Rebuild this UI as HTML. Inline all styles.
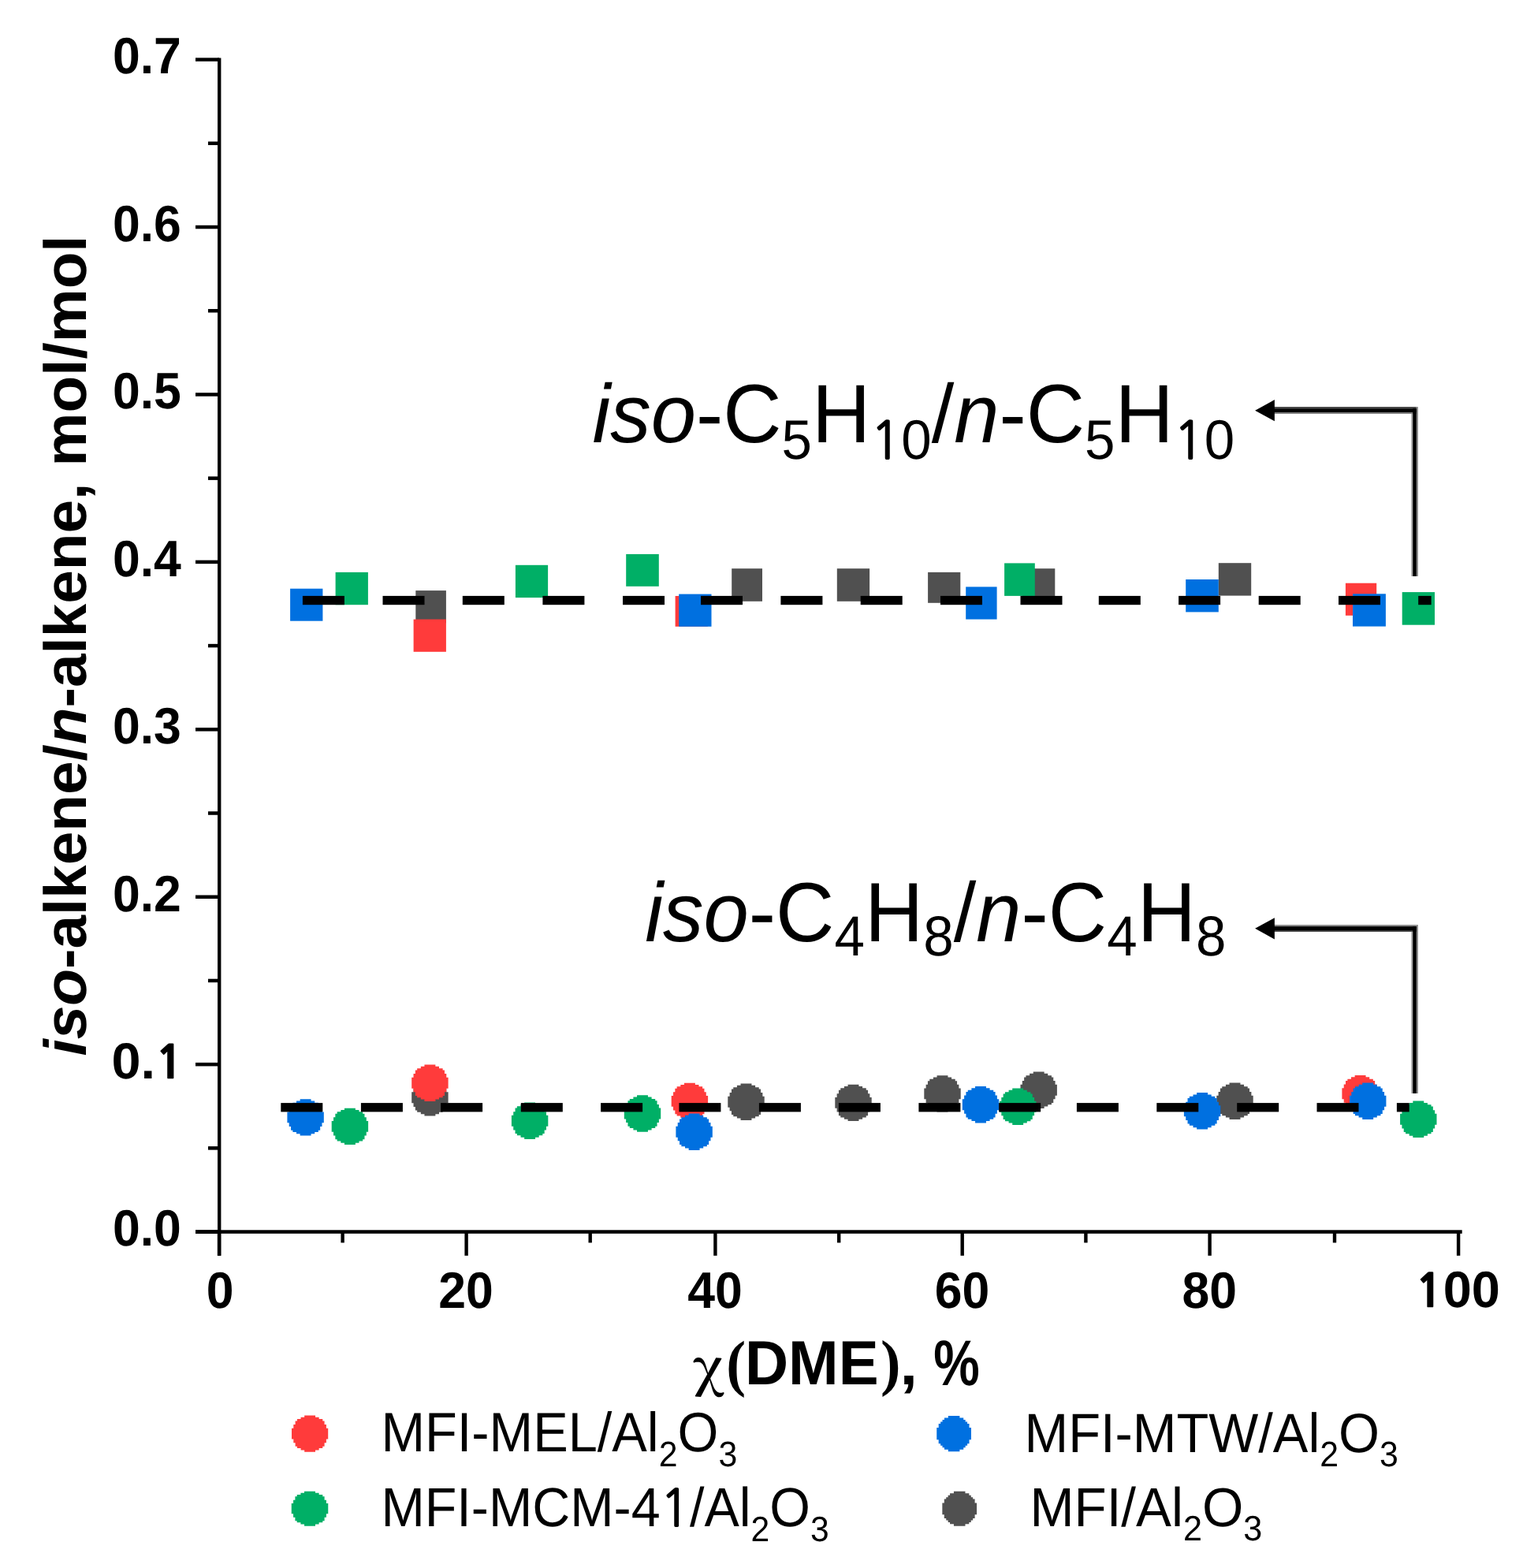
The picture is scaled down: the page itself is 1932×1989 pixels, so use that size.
<!DOCTYPE html>
<html><head><meta charset="utf-8"><title>iso-alkene/n-alkene vs DME conversion</title>
<style>html,body{margin:0;padding:0;background:#fff;}body{width:1932px;height:1989px;overflow:hidden;}svg{display:block;}text{font-family:"Liberation Sans",Arial,sans-serif;fill:#000;text-rendering:geometricPrecision;}.b{font-weight:bold;}.i{font-style:italic;}</style></head><body>
<svg width="1932" height="1989" viewBox="0 0 1932 1989">
<rect x="0" y="0" width="1932" height="1989" fill="#fff"/>
<g id="axes" fill="#000"><rect x="276.0" y="73.5" width="4.4" height="1519.3"/><rect x="248" y="1560.3" width="1606.7" height="4.5"/><rect x="248" y="1560.35" width="30" height="4.5"/><rect x="264" y="1454.13" width="14" height="4.5"/><rect x="248" y="1347.92" width="30" height="4.5"/><rect x="264" y="1241.70" width="14" height="4.5"/><rect x="248" y="1135.49" width="30" height="4.5"/><rect x="264" y="1029.27" width="14" height="4.5"/><rect x="248" y="923.06" width="30" height="4.5"/><rect x="264" y="816.84" width="14" height="4.5"/><rect x="248" y="710.63" width="30" height="4.5"/><rect x="264" y="604.41" width="14" height="4.5"/><rect x="248" y="498.20" width="30" height="4.5"/><rect x="264" y="391.98" width="14" height="4.5"/><rect x="248" y="285.77" width="30" height="4.5"/><rect x="264" y="179.55" width="14" height="4.5"/><rect x="248" y="73.34" width="30" height="4.5"/><rect x="275.80" y="1562.6" width="4.4" height="30.2"/><rect x="432.40" y="1562.6" width="4.4" height="13.8"/><rect x="589.40" y="1562.6" width="4.4" height="30.2"/><rect x="746.50" y="1562.6" width="4.4" height="13.8"/><rect x="905.20" y="1562.6" width="4.4" height="30.2"/><rect x="1062.00" y="1562.6" width="4.4" height="13.8"/><rect x="1218.50" y="1562.6" width="4.4" height="30.2"/><rect x="1375.20" y="1562.6" width="4.4" height="13.8"/><rect x="1532.40" y="1562.6" width="4.4" height="30.2"/><rect x="1690.80" y="1562.6" width="4.4" height="13.8"/><rect x="1847.90" y="1562.6" width="4.4" height="30.2"/></g>
<g id="ticklabels" class="b" font-size="61"><text transform="translate(229.9 1580.40) scale(1.025 1.065)" text-anchor="end">0.0</text><text transform="translate(229.9 1155.54) scale(1.025 1.065)" text-anchor="end">0.2</text><text transform="translate(229.9 943.11) scale(1.025 1.065)" text-anchor="end">0.3</text><text transform="translate(229.9 730.68) scale(1.025 1.065)" text-anchor="end">0.4</text><text transform="translate(229.9 518.25) scale(1.025 1.065)" text-anchor="end">0.5</text><text transform="translate(229.9 305.82) scale(1.025 1.065)" text-anchor="end">0.6</text><text transform="translate(229.9 93.39) scale(1.025 1.065)" text-anchor="end">0.7</text><text transform="translate(279.10 1659.2) scale(1.025 1.065)" text-anchor="middle">0</text><text transform="translate(591.10 1659.2) scale(1.025 1.065)" text-anchor="middle">20</text><text transform="translate(907.00 1659.2) scale(1.025 1.065)" text-anchor="middle">40</text><text transform="translate(1220.40 1659.2) scale(1.025 1.065)" text-anchor="middle">60</text><text transform="translate(1534.30 1659.2) scale(1.025 1.065)" text-anchor="middle">80</text></g>
<g id="yl1" transform="matrix(1.06627 0 0 0.99118 -11.861 11.627)"><text class="b" font-size="61" transform="translate(229.9 1367.97) scale(1.025 1.065)" text-anchor="end">0.<tspan style="font-family:NanumGothic,sans-serif;font-weight:800;font-size:0.895em">1</tspan></text></g>
<g id="xl100" transform="matrix(1.03873 0 0 0.99655 -72.594 4.706)"><text class="b" font-size="61" transform="translate(1850.20 1659.2) scale(1.025 1.065)" text-anchor="middle"><tspan style="font-family:NanumGothic,sans-serif;font-weight:800;font-size:0.895em">1</tspan>00</text></g>
<g id="ytitle" transform="matrix(0.96874 0 0 0.98035 1.892 14.796)"><text class="b" font-size="78" transform="translate(110.4 820.3) rotate(-90)" text-anchor="middle"><tspan class="i">iso</tspan>-alkene/<tspan class="i">n</tspan>-alkene, mol/mol</text></g>
<g id="xt_chi" transform="matrix(0.87346 0 0 0.86226 110.613 243.683)"><text font-size="77" x="880" y="1756" style="font-family:'Noto Serif CJK SC',serif;font-weight:600">χ</text></g>
<g id="xt_lp" transform="matrix(0.96751 0 0 1.03516 27.300 -62.131)"><text class="b" font-size="77" x="924" y="1756" style="font-family:'Liberation Serif',serif">(</text></g>
<g id="xt_dme" transform="matrix(0.99093 0 0 1.03068 3.586 -54.367)"><text class="b" font-size="77" x="950" y="1756">DME</text></g>
<g id="xt_rp" transform="matrix(0.99772 0 0 1.02966 1.658 -52.737)"><text class="b" font-size="77" x="1118" y="1756" style="font-family:'Liberation Serif',serif">)</text></g>
<g id="xt_cm" transform="matrix(1.05132 0 0 0.96664 -62.177 58.713)"><text class="b" font-size="77" x="1145" y="1756">,</text></g>
<g id="xt_pc" transform="matrix(0.85414 0 0 1.06008 176.469 -104.184)"><text class="b" font-size="77" x="1180" y="1756">%</text></g>
<g id="markers"><rect x="527.3" y="749.1" width="38.6" height="41.4" fill="#505050"/><rect x="928.2" y="721.2" width="38.8" height="41.6" fill="#505050"/><rect x="1061.8" y="721.2" width="41.3" height="41.6" fill="#505050"/><rect x="1177.1" y="725.9" width="41.2" height="38.9" fill="#505050"/><rect x="1296.9" y="721.2" width="41.4" height="41.4" fill="#505050"/><rect x="1545.8" y="714.2" width="41.4" height="41.4" fill="#505050"/><rect x="524.6" y="785.6" width="41.3" height="41.2" fill="#FF3B3B"/><rect x="856.6" y="756.0" width="41.3" height="38.8" fill="#FF3B3B"/><rect x="1706.9" y="739.7" width="39.3" height="41.1" fill="#FF3B3B"/><rect x="368.1" y="746.7" width="41.3" height="41.0" fill="#0070E0"/><rect x="861.2" y="753.6" width="41.3" height="41.2" fill="#0070E0"/><rect x="1225.2" y="744.4" width="39.4" height="41.2" fill="#0070E0"/><rect x="1504.2" y="735.0" width="41.6" height="41.4" fill="#0070E0"/><rect x="1716.0" y="753.3" width="41.9" height="41.3" fill="#0070E0"/><rect x="425.6" y="725.9" width="41.3" height="41.3" fill="#00AF66"/><rect x="653.9" y="716.8" width="41.2" height="41.3" fill="#00AF66"/><rect x="794.2" y="702.9" width="41.6" height="40.9" fill="#00AF66"/><rect x="1274.1" y="714.4" width="38.7" height="41.5" fill="#00AF66"/><rect x="1778.7" y="751.1" width="41.3" height="41.6" fill="#00AF66"/><path d="M552.36 1369.10 L552.36 1371.42 L557.00 1371.42 L557.00 1373.74 L561.64 1373.74 L561.64 1376.06 L563.96 1376.06 L563.96 1378.38 L563.96 1378.38 L563.96 1380.70 L566.28 1380.70 L566.28 1383.02 L566.28 1383.02 L566.28 1385.34 L568.60 1385.34 L568.60 1387.66 L568.60 1387.66 L568.60 1389.98 L568.60 1389.98 L568.60 1392.30 L568.60 1392.30 L568.60 1394.62 L568.60 1394.62 L568.60 1396.94 L568.60 1396.94 L568.60 1399.26 L566.28 1399.26 L566.28 1401.58 L566.28 1401.58 L566.28 1403.90 L563.96 1403.90 L563.96 1406.22 L563.96 1406.22 L563.96 1408.54 L561.64 1408.54 L561.64 1410.86 L557.00 1410.86 L557.00 1413.18 L552.36 1413.18 L552.36 1415.50 L538.44 1415.50 L538.44 1413.18 L533.80 1413.18 L533.80 1410.86 L529.16 1410.86 L529.16 1408.54 L526.84 1408.54 L526.84 1406.22 L526.84 1406.22 L526.84 1403.90 L524.52 1403.90 L524.52 1401.58 L524.52 1401.58 L524.52 1399.26 L522.20 1399.26 L522.20 1396.94 L522.20 1396.94 L522.20 1394.62 L522.20 1394.62 L522.20 1392.30 L522.20 1392.30 L522.20 1389.98 L522.20 1389.98 L522.20 1387.66 L522.20 1387.66 L522.20 1385.34 L524.52 1385.34 L524.52 1383.02 L524.52 1383.02 L524.52 1380.70 L526.84 1380.70 L526.84 1378.38 L526.84 1378.38 L526.84 1376.06 L529.16 1376.06 L529.16 1373.74 L533.80 1373.74 L533.80 1371.42 L538.44 1371.42 L538.44 1369.10Z" fill="#505050"/><path d="M953.46 1374.50 L953.46 1376.82 L958.10 1376.82 L958.10 1379.14 L962.74 1379.14 L962.74 1381.46 L965.06 1381.46 L965.06 1383.78 L965.06 1383.78 L965.06 1386.10 L967.38 1386.10 L967.38 1388.42 L967.38 1388.42 L967.38 1390.74 L969.70 1390.74 L969.70 1393.06 L969.70 1393.06 L969.70 1395.38 L969.70 1395.38 L969.70 1397.70 L969.70 1397.70 L969.70 1400.02 L969.70 1400.02 L969.70 1402.34 L969.70 1402.34 L969.70 1404.66 L967.38 1404.66 L967.38 1406.98 L967.38 1406.98 L967.38 1409.30 L965.06 1409.30 L965.06 1411.62 L965.06 1411.62 L965.06 1413.94 L962.74 1413.94 L962.74 1416.26 L958.10 1416.26 L958.10 1418.58 L953.46 1418.58 L953.46 1420.90 L939.54 1420.90 L939.54 1418.58 L934.90 1418.58 L934.90 1416.26 L930.26 1416.26 L930.26 1413.94 L927.94 1413.94 L927.94 1411.62 L927.94 1411.62 L927.94 1409.30 L925.62 1409.30 L925.62 1406.98 L925.62 1406.98 L925.62 1404.66 L923.30 1404.66 L923.30 1402.34 L923.30 1402.34 L923.30 1400.02 L923.30 1400.02 L923.30 1397.70 L923.30 1397.70 L923.30 1395.38 L923.30 1395.38 L923.30 1393.06 L923.30 1393.06 L923.30 1390.74 L925.62 1390.74 L925.62 1388.42 L925.62 1388.42 L925.62 1386.10 L927.94 1386.10 L927.94 1383.78 L927.94 1383.78 L927.94 1381.46 L930.26 1381.46 L930.26 1379.14 L934.90 1379.14 L934.90 1376.82 L939.54 1376.82 L939.54 1374.50Z" fill="#505050"/><path d="M1089.46 1375.70 L1089.46 1378.02 L1094.10 1378.02 L1094.10 1380.34 L1098.74 1380.34 L1098.74 1382.66 L1101.06 1382.66 L1101.06 1384.98 L1101.06 1384.98 L1101.06 1387.30 L1103.38 1387.30 L1103.38 1389.62 L1103.38 1389.62 L1103.38 1391.94 L1105.70 1391.94 L1105.70 1394.26 L1105.70 1394.26 L1105.70 1396.58 L1105.70 1396.58 L1105.70 1398.90 L1105.70 1398.90 L1105.70 1401.22 L1105.70 1401.22 L1105.70 1403.54 L1105.70 1403.54 L1105.70 1405.86 L1103.38 1405.86 L1103.38 1408.18 L1103.38 1408.18 L1103.38 1410.50 L1101.06 1410.50 L1101.06 1412.82 L1101.06 1412.82 L1101.06 1415.14 L1098.74 1415.14 L1098.74 1417.46 L1094.10 1417.46 L1094.10 1419.78 L1089.46 1419.78 L1089.46 1422.10 L1075.54 1422.10 L1075.54 1419.78 L1070.90 1419.78 L1070.90 1417.46 L1066.26 1417.46 L1066.26 1415.14 L1063.94 1415.14 L1063.94 1412.82 L1063.94 1412.82 L1063.94 1410.50 L1061.62 1410.50 L1061.62 1408.18 L1061.62 1408.18 L1061.62 1405.86 L1059.30 1405.86 L1059.30 1403.54 L1059.30 1403.54 L1059.30 1401.22 L1059.30 1401.22 L1059.30 1398.90 L1059.30 1398.90 L1059.30 1396.58 L1059.30 1396.58 L1059.30 1394.26 L1059.30 1394.26 L1059.30 1391.94 L1061.62 1391.94 L1061.62 1389.62 L1061.62 1389.62 L1061.62 1387.30 L1063.94 1387.30 L1063.94 1384.98 L1063.94 1384.98 L1063.94 1382.66 L1066.26 1382.66 L1066.26 1380.34 L1070.90 1380.34 L1070.90 1378.02 L1075.54 1378.02 L1075.54 1375.70Z" fill="#505050"/><path d="M1202.46 1364.20 L1202.46 1366.52 L1207.10 1366.52 L1207.10 1368.84 L1211.74 1368.84 L1211.74 1371.16 L1214.06 1371.16 L1214.06 1373.48 L1214.06 1373.48 L1214.06 1375.80 L1216.38 1375.80 L1216.38 1378.12 L1216.38 1378.12 L1216.38 1380.44 L1218.70 1380.44 L1218.70 1382.76 L1218.70 1382.76 L1218.70 1385.08 L1218.70 1385.08 L1218.70 1387.40 L1218.70 1387.40 L1218.70 1389.72 L1218.70 1389.72 L1218.70 1392.04 L1218.70 1392.04 L1218.70 1394.36 L1216.38 1394.36 L1216.38 1396.68 L1216.38 1396.68 L1216.38 1399.00 L1214.06 1399.00 L1214.06 1401.32 L1214.06 1401.32 L1214.06 1403.64 L1211.74 1403.64 L1211.74 1405.96 L1207.10 1405.96 L1207.10 1408.28 L1202.46 1408.28 L1202.46 1410.60 L1188.54 1410.60 L1188.54 1408.28 L1183.90 1408.28 L1183.90 1405.96 L1179.26 1405.96 L1179.26 1403.64 L1176.94 1403.64 L1176.94 1401.32 L1176.94 1401.32 L1176.94 1399.00 L1174.62 1399.00 L1174.62 1396.68 L1174.62 1396.68 L1174.62 1394.36 L1172.30 1394.36 L1172.30 1392.04 L1172.30 1392.04 L1172.30 1389.72 L1172.30 1389.72 L1172.30 1387.40 L1172.30 1387.40 L1172.30 1385.08 L1172.30 1385.08 L1172.30 1382.76 L1172.30 1382.76 L1172.30 1380.44 L1174.62 1380.44 L1174.62 1378.12 L1174.62 1378.12 L1174.62 1375.80 L1176.94 1375.80 L1176.94 1373.48 L1176.94 1373.48 L1176.94 1371.16 L1179.26 1371.16 L1179.26 1368.84 L1183.90 1368.84 L1183.90 1366.52 L1188.54 1366.52 L1188.54 1364.20Z" fill="#505050"/><path d="M1324.66 1359.50 L1324.66 1361.82 L1329.30 1361.82 L1329.30 1364.14 L1333.94 1364.14 L1333.94 1366.46 L1336.26 1366.46 L1336.26 1368.78 L1336.26 1368.78 L1336.26 1371.10 L1338.58 1371.10 L1338.58 1373.42 L1338.58 1373.42 L1338.58 1375.74 L1340.90 1375.74 L1340.90 1378.06 L1340.90 1378.06 L1340.90 1380.38 L1340.90 1380.38 L1340.90 1382.70 L1340.90 1382.70 L1340.90 1385.02 L1340.90 1385.02 L1340.90 1387.34 L1340.90 1387.34 L1340.90 1389.66 L1338.58 1389.66 L1338.58 1391.98 L1338.58 1391.98 L1338.58 1394.30 L1336.26 1394.30 L1336.26 1396.62 L1336.26 1396.62 L1336.26 1398.94 L1333.94 1398.94 L1333.94 1401.26 L1329.30 1401.26 L1329.30 1403.58 L1324.66 1403.58 L1324.66 1405.90 L1310.74 1405.90 L1310.74 1403.58 L1306.10 1403.58 L1306.10 1401.26 L1301.46 1401.26 L1301.46 1398.94 L1299.14 1398.94 L1299.14 1396.62 L1299.14 1396.62 L1299.14 1394.30 L1296.82 1394.30 L1296.82 1391.98 L1296.82 1391.98 L1296.82 1389.66 L1294.50 1389.66 L1294.50 1387.34 L1294.50 1387.34 L1294.50 1385.02 L1294.50 1385.02 L1294.50 1382.70 L1294.50 1382.70 L1294.50 1380.38 L1294.50 1380.38 L1294.50 1378.06 L1294.50 1378.06 L1294.50 1375.74 L1296.82 1375.74 L1296.82 1373.42 L1296.82 1373.42 L1296.82 1371.10 L1299.14 1371.10 L1299.14 1368.78 L1299.14 1368.78 L1299.14 1366.46 L1301.46 1366.46 L1301.46 1364.14 L1306.10 1364.14 L1306.10 1361.82 L1310.74 1361.82 L1310.74 1359.50Z" fill="#505050"/><path d="M1573.46 1373.50 L1573.46 1375.82 L1578.10 1375.82 L1578.10 1378.14 L1582.74 1378.14 L1582.74 1380.46 L1585.06 1380.46 L1585.06 1382.78 L1585.06 1382.78 L1585.06 1385.10 L1587.38 1385.10 L1587.38 1387.42 L1587.38 1387.42 L1587.38 1389.74 L1589.70 1389.74 L1589.70 1392.06 L1589.70 1392.06 L1589.70 1394.38 L1589.70 1394.38 L1589.70 1396.70 L1589.70 1396.70 L1589.70 1399.02 L1589.70 1399.02 L1589.70 1401.34 L1589.70 1401.34 L1589.70 1403.66 L1587.38 1403.66 L1587.38 1405.98 L1587.38 1405.98 L1587.38 1408.30 L1585.06 1408.30 L1585.06 1410.62 L1585.06 1410.62 L1585.06 1412.94 L1582.74 1412.94 L1582.74 1415.26 L1578.10 1415.26 L1578.10 1417.58 L1573.46 1417.58 L1573.46 1419.90 L1559.54 1419.90 L1559.54 1417.58 L1554.90 1417.58 L1554.90 1415.26 L1550.26 1415.26 L1550.26 1412.94 L1547.94 1412.94 L1547.94 1410.62 L1547.94 1410.62 L1547.94 1408.30 L1545.62 1408.30 L1545.62 1405.98 L1545.62 1405.98 L1545.62 1403.66 L1543.30 1403.66 L1543.30 1401.34 L1543.30 1401.34 L1543.30 1399.02 L1543.30 1399.02 L1543.30 1396.70 L1543.30 1396.70 L1543.30 1394.38 L1543.30 1394.38 L1543.30 1392.06 L1543.30 1392.06 L1543.30 1389.74 L1545.62 1389.74 L1545.62 1387.42 L1545.62 1387.42 L1545.62 1385.10 L1547.94 1385.10 L1547.94 1382.78 L1547.94 1382.78 L1547.94 1380.46 L1550.26 1380.46 L1550.26 1378.14 L1554.90 1378.14 L1554.90 1375.82 L1559.54 1375.82 L1559.54 1373.50Z" fill="#505050"/><path d="M552.36 1350.50 L552.36 1352.82 L557.00 1352.82 L557.00 1355.14 L561.64 1355.14 L561.64 1357.46 L563.96 1357.46 L563.96 1359.78 L563.96 1359.78 L563.96 1362.10 L566.28 1362.10 L566.28 1364.42 L566.28 1364.42 L566.28 1366.74 L568.60 1366.74 L568.60 1369.06 L568.60 1369.06 L568.60 1371.38 L568.60 1371.38 L568.60 1373.70 L568.60 1373.70 L568.60 1376.02 L568.60 1376.02 L568.60 1378.34 L568.60 1378.34 L568.60 1380.66 L566.28 1380.66 L566.28 1382.98 L566.28 1382.98 L566.28 1385.30 L563.96 1385.30 L563.96 1387.62 L563.96 1387.62 L563.96 1389.94 L561.64 1389.94 L561.64 1392.26 L557.00 1392.26 L557.00 1394.58 L552.36 1394.58 L552.36 1396.90 L538.44 1396.90 L538.44 1394.58 L533.80 1394.58 L533.80 1392.26 L529.16 1392.26 L529.16 1389.94 L526.84 1389.94 L526.84 1387.62 L526.84 1387.62 L526.84 1385.30 L524.52 1385.30 L524.52 1382.98 L524.52 1382.98 L524.52 1380.66 L522.20 1380.66 L522.20 1378.34 L522.20 1378.34 L522.20 1376.02 L522.20 1376.02 L522.20 1373.70 L522.20 1373.70 L522.20 1371.38 L522.20 1371.38 L522.20 1369.06 L522.20 1369.06 L522.20 1366.74 L524.52 1366.74 L524.52 1364.42 L524.52 1364.42 L524.52 1362.10 L526.84 1362.10 L526.84 1359.78 L526.84 1359.78 L526.84 1357.46 L529.16 1357.46 L529.16 1355.14 L533.80 1355.14 L533.80 1352.82 L538.44 1352.82 L538.44 1350.50Z" fill="#FF3B3B"/><path d="M881.86 1373.70 L881.86 1376.02 L886.50 1376.02 L886.50 1378.34 L891.14 1378.34 L891.14 1380.66 L893.46 1380.66 L893.46 1382.98 L893.46 1382.98 L893.46 1385.30 L895.78 1385.30 L895.78 1387.62 L895.78 1387.62 L895.78 1389.94 L898.10 1389.94 L898.10 1392.26 L898.10 1392.26 L898.10 1394.58 L898.10 1394.58 L898.10 1396.90 L898.10 1396.90 L898.10 1399.22 L898.10 1399.22 L898.10 1401.54 L898.10 1401.54 L898.10 1403.86 L895.78 1403.86 L895.78 1406.18 L895.78 1406.18 L895.78 1408.50 L893.46 1408.50 L893.46 1410.82 L893.46 1410.82 L893.46 1413.14 L891.14 1413.14 L891.14 1415.46 L886.50 1415.46 L886.50 1417.78 L881.86 1417.78 L881.86 1420.10 L867.94 1420.10 L867.94 1417.78 L863.30 1417.78 L863.30 1415.46 L858.66 1415.46 L858.66 1413.14 L856.34 1413.14 L856.34 1410.82 L856.34 1410.82 L856.34 1408.50 L854.02 1408.50 L854.02 1406.18 L854.02 1406.18 L854.02 1403.86 L851.70 1403.86 L851.70 1401.54 L851.70 1401.54 L851.70 1399.22 L851.70 1399.22 L851.70 1396.90 L851.70 1396.90 L851.70 1394.58 L851.70 1394.58 L851.70 1392.26 L851.70 1392.26 L851.70 1389.94 L854.02 1389.94 L854.02 1387.62 L854.02 1387.62 L854.02 1385.30 L856.34 1385.30 L856.34 1382.98 L856.34 1382.98 L856.34 1380.66 L858.66 1380.66 L858.66 1378.34 L863.30 1378.34 L863.30 1376.02 L867.94 1376.02 L867.94 1373.70Z" fill="#FF3B3B"/><path d="M1732.56 1364.00 L1732.56 1366.32 L1737.20 1366.32 L1737.20 1368.64 L1741.84 1368.64 L1741.84 1370.96 L1744.16 1370.96 L1744.16 1373.28 L1744.16 1373.28 L1744.16 1375.60 L1746.48 1375.60 L1746.48 1377.92 L1746.48 1377.92 L1746.48 1380.24 L1748.80 1380.24 L1748.80 1382.56 L1748.80 1382.56 L1748.80 1384.88 L1748.80 1384.88 L1748.80 1387.20 L1748.80 1387.20 L1748.80 1389.52 L1748.80 1389.52 L1748.80 1391.84 L1748.80 1391.84 L1748.80 1394.16 L1746.48 1394.16 L1746.48 1396.48 L1746.48 1396.48 L1746.48 1398.80 L1744.16 1398.80 L1744.16 1401.12 L1744.16 1401.12 L1744.16 1403.44 L1741.84 1403.44 L1741.84 1405.76 L1737.20 1405.76 L1737.20 1408.08 L1732.56 1408.08 L1732.56 1410.40 L1718.64 1410.40 L1718.64 1408.08 L1714.00 1408.08 L1714.00 1405.76 L1709.36 1405.76 L1709.36 1403.44 L1707.04 1403.44 L1707.04 1401.12 L1707.04 1401.12 L1707.04 1398.80 L1704.72 1398.80 L1704.72 1396.48 L1704.72 1396.48 L1704.72 1394.16 L1702.40 1394.16 L1702.40 1391.84 L1702.40 1391.84 L1702.40 1389.52 L1702.40 1389.52 L1702.40 1387.20 L1702.40 1387.20 L1702.40 1384.88 L1702.40 1384.88 L1702.40 1382.56 L1702.40 1382.56 L1702.40 1380.24 L1704.72 1380.24 L1704.72 1377.92 L1704.72 1377.92 L1704.72 1375.60 L1707.04 1375.60 L1707.04 1373.28 L1707.04 1373.28 L1707.04 1370.96 L1709.36 1370.96 L1709.36 1368.64 L1714.00 1368.64 L1714.00 1366.32 L1718.64 1366.32 L1718.64 1364.00Z" fill="#FF3B3B"/><path d="M394.56 1394.20 L394.56 1396.52 L399.20 1396.52 L399.20 1398.84 L403.84 1398.84 L403.84 1401.16 L406.16 1401.16 L406.16 1403.48 L406.16 1403.48 L406.16 1405.80 L408.48 1405.80 L408.48 1408.12 L408.48 1408.12 L408.48 1410.44 L410.80 1410.44 L410.80 1412.76 L410.80 1412.76 L410.80 1415.08 L410.80 1415.08 L410.80 1417.40 L410.80 1417.40 L410.80 1419.72 L410.80 1419.72 L410.80 1422.04 L410.80 1422.04 L410.80 1424.36 L408.48 1424.36 L408.48 1426.68 L408.48 1426.68 L408.48 1429.00 L406.16 1429.00 L406.16 1431.32 L406.16 1431.32 L406.16 1433.64 L403.84 1433.64 L403.84 1435.96 L399.20 1435.96 L399.20 1438.28 L394.56 1438.28 L394.56 1440.60 L380.64 1440.60 L380.64 1438.28 L376.00 1438.28 L376.00 1435.96 L371.36 1435.96 L371.36 1433.64 L369.04 1433.64 L369.04 1431.32 L369.04 1431.32 L369.04 1429.00 L366.72 1429.00 L366.72 1426.68 L366.72 1426.68 L366.72 1424.36 L364.40 1424.36 L364.40 1422.04 L364.40 1422.04 L364.40 1419.72 L364.40 1419.72 L364.40 1417.40 L364.40 1417.40 L364.40 1415.08 L364.40 1415.08 L364.40 1412.76 L364.40 1412.76 L364.40 1410.44 L366.72 1410.44 L366.72 1408.12 L366.72 1408.12 L366.72 1405.80 L369.04 1405.80 L369.04 1403.48 L369.04 1403.48 L369.04 1401.16 L371.36 1401.16 L371.36 1398.84 L376.00 1398.84 L376.00 1396.52 L380.64 1396.52 L380.64 1394.20Z" fill="#0070E0"/><path d="M887.56 1412.50 L887.56 1414.82 L892.20 1414.82 L892.20 1417.14 L896.84 1417.14 L896.84 1419.46 L899.16 1419.46 L899.16 1421.78 L899.16 1421.78 L899.16 1424.10 L901.48 1424.10 L901.48 1426.42 L901.48 1426.42 L901.48 1428.74 L903.80 1428.74 L903.80 1431.06 L903.80 1431.06 L903.80 1433.38 L903.80 1433.38 L903.80 1435.70 L903.80 1435.70 L903.80 1438.02 L903.80 1438.02 L903.80 1440.34 L903.80 1440.34 L903.80 1442.66 L901.48 1442.66 L901.48 1444.98 L901.48 1444.98 L901.48 1447.30 L899.16 1447.30 L899.16 1449.62 L899.16 1449.62 L899.16 1451.94 L896.84 1451.94 L896.84 1454.26 L892.20 1454.26 L892.20 1456.58 L887.56 1456.58 L887.56 1458.90 L873.64 1458.90 L873.64 1456.58 L869.00 1456.58 L869.00 1454.26 L864.36 1454.26 L864.36 1451.94 L862.04 1451.94 L862.04 1449.62 L862.04 1449.62 L862.04 1447.30 L859.72 1447.30 L859.72 1444.98 L859.72 1444.98 L859.72 1442.66 L857.40 1442.66 L857.40 1440.34 L857.40 1440.34 L857.40 1438.02 L857.40 1438.02 L857.40 1435.70 L857.40 1435.70 L857.40 1433.38 L857.40 1433.38 L857.40 1431.06 L857.40 1431.06 L857.40 1428.74 L859.72 1428.74 L859.72 1426.42 L859.72 1426.42 L859.72 1424.10 L862.04 1424.10 L862.04 1421.78 L862.04 1421.78 L862.04 1419.46 L864.36 1419.46 L864.36 1417.14 L869.00 1417.14 L869.00 1414.82 L873.64 1414.82 L873.64 1412.50Z" fill="#0070E0"/><path d="M1250.96 1378.00 L1250.96 1380.32 L1255.60 1380.32 L1255.60 1382.64 L1260.24 1382.64 L1260.24 1384.96 L1262.56 1384.96 L1262.56 1387.28 L1262.56 1387.28 L1262.56 1389.60 L1264.88 1389.60 L1264.88 1391.92 L1264.88 1391.92 L1264.88 1394.24 L1267.20 1394.24 L1267.20 1396.56 L1267.20 1396.56 L1267.20 1398.88 L1267.20 1398.88 L1267.20 1401.20 L1267.20 1401.20 L1267.20 1403.52 L1267.20 1403.52 L1267.20 1405.84 L1267.20 1405.84 L1267.20 1408.16 L1264.88 1408.16 L1264.88 1410.48 L1264.88 1410.48 L1264.88 1412.80 L1262.56 1412.80 L1262.56 1415.12 L1262.56 1415.12 L1262.56 1417.44 L1260.24 1417.44 L1260.24 1419.76 L1255.60 1419.76 L1255.60 1422.08 L1250.96 1422.08 L1250.96 1424.40 L1237.04 1424.40 L1237.04 1422.08 L1232.40 1422.08 L1232.40 1419.76 L1227.76 1419.76 L1227.76 1417.44 L1225.44 1417.44 L1225.44 1415.12 L1225.44 1415.12 L1225.44 1412.80 L1223.12 1412.80 L1223.12 1410.48 L1223.12 1410.48 L1223.12 1408.16 L1220.80 1408.16 L1220.80 1405.84 L1220.80 1405.84 L1220.80 1403.52 L1220.80 1403.52 L1220.80 1401.20 L1220.80 1401.20 L1220.80 1398.88 L1220.80 1398.88 L1220.80 1396.56 L1220.80 1396.56 L1220.80 1394.24 L1223.12 1394.24 L1223.12 1391.92 L1223.12 1391.92 L1223.12 1389.60 L1225.44 1389.60 L1225.44 1387.28 L1225.44 1387.28 L1225.44 1384.96 L1227.76 1384.96 L1227.76 1382.64 L1232.40 1382.64 L1232.40 1380.32 L1237.04 1380.32 L1237.04 1378.00Z" fill="#0070E0"/><path d="M1532.06 1386.10 L1532.06 1388.42 L1536.70 1388.42 L1536.70 1390.74 L1541.34 1390.74 L1541.34 1393.06 L1543.66 1393.06 L1543.66 1395.38 L1543.66 1395.38 L1543.66 1397.70 L1545.98 1397.70 L1545.98 1400.02 L1545.98 1400.02 L1545.98 1402.34 L1548.30 1402.34 L1548.30 1404.66 L1548.30 1404.66 L1548.30 1406.98 L1548.30 1406.98 L1548.30 1409.30 L1548.30 1409.30 L1548.30 1411.62 L1548.30 1411.62 L1548.30 1413.94 L1548.30 1413.94 L1548.30 1416.26 L1545.98 1416.26 L1545.98 1418.58 L1545.98 1418.58 L1545.98 1420.90 L1543.66 1420.90 L1543.66 1423.22 L1543.66 1423.22 L1543.66 1425.54 L1541.34 1425.54 L1541.34 1427.86 L1536.70 1427.86 L1536.70 1430.18 L1532.06 1430.18 L1532.06 1432.50 L1518.14 1432.50 L1518.14 1430.18 L1513.50 1430.18 L1513.50 1427.86 L1508.86 1427.86 L1508.86 1425.54 L1506.54 1425.54 L1506.54 1423.22 L1506.54 1423.22 L1506.54 1420.90 L1504.22 1420.90 L1504.22 1418.58 L1504.22 1418.58 L1504.22 1416.26 L1501.90 1416.26 L1501.90 1413.94 L1501.90 1413.94 L1501.90 1411.62 L1501.90 1411.62 L1501.90 1409.30 L1501.90 1409.30 L1501.90 1406.98 L1501.90 1406.98 L1501.90 1404.66 L1501.90 1404.66 L1501.90 1402.34 L1504.22 1402.34 L1504.22 1400.02 L1504.22 1400.02 L1504.22 1397.70 L1506.54 1397.70 L1506.54 1395.38 L1506.54 1395.38 L1506.54 1393.06 L1508.86 1393.06 L1508.86 1390.74 L1513.50 1390.74 L1513.50 1388.42 L1518.14 1388.42 L1518.14 1386.10Z" fill="#0070E0"/><path d="M1742.16 1373.50 L1742.16 1375.82 L1746.80 1375.82 L1746.80 1378.14 L1751.44 1378.14 L1751.44 1380.46 L1753.76 1380.46 L1753.76 1382.78 L1753.76 1382.78 L1753.76 1385.10 L1756.08 1385.10 L1756.08 1387.42 L1756.08 1387.42 L1756.08 1389.74 L1758.40 1389.74 L1758.40 1392.06 L1758.40 1392.06 L1758.40 1394.38 L1758.40 1394.38 L1758.40 1396.70 L1758.40 1396.70 L1758.40 1399.02 L1758.40 1399.02 L1758.40 1401.34 L1758.40 1401.34 L1758.40 1403.66 L1756.08 1403.66 L1756.08 1405.98 L1756.08 1405.98 L1756.08 1408.30 L1753.76 1408.30 L1753.76 1410.62 L1753.76 1410.62 L1753.76 1412.94 L1751.44 1412.94 L1751.44 1415.26 L1746.80 1415.26 L1746.80 1417.58 L1742.16 1417.58 L1742.16 1419.90 L1728.24 1419.90 L1728.24 1417.58 L1723.60 1417.58 L1723.60 1415.26 L1718.96 1415.26 L1718.96 1412.94 L1716.64 1412.94 L1716.64 1410.62 L1716.64 1410.62 L1716.64 1408.30 L1714.32 1408.30 L1714.32 1405.98 L1714.32 1405.98 L1714.32 1403.66 L1712.00 1403.66 L1712.00 1401.34 L1712.00 1401.34 L1712.00 1399.02 L1712.00 1399.02 L1712.00 1396.70 L1712.00 1396.70 L1712.00 1394.38 L1712.00 1394.38 L1712.00 1392.06 L1712.00 1392.06 L1712.00 1389.74 L1714.32 1389.74 L1714.32 1387.42 L1714.32 1387.42 L1714.32 1385.10 L1716.64 1385.10 L1716.64 1382.78 L1716.64 1382.78 L1716.64 1380.46 L1718.96 1380.46 L1718.96 1378.14 L1723.60 1378.14 L1723.60 1375.82 L1728.24 1375.82 L1728.24 1373.50Z" fill="#0070E0"/><path d="M450.86 1405.70 L450.86 1408.02 L455.50 1408.02 L455.50 1410.34 L460.14 1410.34 L460.14 1412.66 L462.46 1412.66 L462.46 1414.98 L462.46 1414.98 L462.46 1417.30 L464.78 1417.30 L464.78 1419.62 L464.78 1419.62 L464.78 1421.94 L467.10 1421.94 L467.10 1424.26 L467.10 1424.26 L467.10 1426.58 L467.10 1426.58 L467.10 1428.90 L467.10 1428.90 L467.10 1431.22 L467.10 1431.22 L467.10 1433.54 L467.10 1433.54 L467.10 1435.86 L464.78 1435.86 L464.78 1438.18 L464.78 1438.18 L464.78 1440.50 L462.46 1440.50 L462.46 1442.82 L462.46 1442.82 L462.46 1445.14 L460.14 1445.14 L460.14 1447.46 L455.50 1447.46 L455.50 1449.78 L450.86 1449.78 L450.86 1452.10 L436.94 1452.10 L436.94 1449.78 L432.30 1449.78 L432.30 1447.46 L427.66 1447.46 L427.66 1445.14 L425.34 1445.14 L425.34 1442.82 L425.34 1442.82 L425.34 1440.50 L423.02 1440.50 L423.02 1438.18 L423.02 1438.18 L423.02 1435.86 L420.70 1435.86 L420.70 1433.54 L420.70 1433.54 L420.70 1431.22 L420.70 1431.22 L420.70 1428.90 L420.70 1428.90 L420.70 1426.58 L420.70 1426.58 L420.70 1424.26 L420.70 1424.26 L420.70 1421.94 L423.02 1421.94 L423.02 1419.62 L423.02 1419.62 L423.02 1417.30 L425.34 1417.30 L425.34 1414.98 L425.34 1414.98 L425.34 1412.66 L427.66 1412.66 L427.66 1410.34 L432.30 1410.34 L432.30 1408.02 L436.94 1408.02 L436.94 1405.70Z" fill="#00AF66"/><path d="M679.06 1398.60 L679.06 1400.92 L683.70 1400.92 L683.70 1403.24 L688.34 1403.24 L688.34 1405.56 L690.66 1405.56 L690.66 1407.88 L690.66 1407.88 L690.66 1410.20 L692.98 1410.20 L692.98 1412.52 L692.98 1412.52 L692.98 1414.84 L695.30 1414.84 L695.30 1417.16 L695.30 1417.16 L695.30 1419.48 L695.30 1419.48 L695.30 1421.80 L695.30 1421.80 L695.30 1424.12 L695.30 1424.12 L695.30 1426.44 L695.30 1426.44 L695.30 1428.76 L692.98 1428.76 L692.98 1431.08 L692.98 1431.08 L692.98 1433.40 L690.66 1433.40 L690.66 1435.72 L690.66 1435.72 L690.66 1438.04 L688.34 1438.04 L688.34 1440.36 L683.70 1440.36 L683.70 1442.68 L679.06 1442.68 L679.06 1445.00 L665.14 1445.00 L665.14 1442.68 L660.50 1442.68 L660.50 1440.36 L655.86 1440.36 L655.86 1438.04 L653.54 1438.04 L653.54 1435.72 L653.54 1435.72 L653.54 1433.40 L651.22 1433.40 L651.22 1431.08 L651.22 1431.08 L651.22 1428.76 L648.90 1428.76 L648.90 1426.44 L648.90 1426.44 L648.90 1424.12 L648.90 1424.12 L648.90 1421.80 L648.90 1421.80 L648.90 1419.48 L648.90 1419.48 L648.90 1417.16 L648.90 1417.16 L648.90 1414.84 L651.22 1414.84 L651.22 1412.52 L651.22 1412.52 L651.22 1410.20 L653.54 1410.20 L653.54 1407.88 L653.54 1407.88 L653.54 1405.56 L655.86 1405.56 L655.86 1403.24 L660.50 1403.24 L660.50 1400.92 L665.14 1400.92 L665.14 1398.60Z" fill="#00AF66"/><path d="M821.96 1389.30 L821.96 1391.62 L826.60 1391.62 L826.60 1393.94 L831.24 1393.94 L831.24 1396.26 L833.56 1396.26 L833.56 1398.58 L833.56 1398.58 L833.56 1400.90 L835.88 1400.90 L835.88 1403.22 L835.88 1403.22 L835.88 1405.54 L838.20 1405.54 L838.20 1407.86 L838.20 1407.86 L838.20 1410.18 L838.20 1410.18 L838.20 1412.50 L838.20 1412.50 L838.20 1414.82 L838.20 1414.82 L838.20 1417.14 L838.20 1417.14 L838.20 1419.46 L835.88 1419.46 L835.88 1421.78 L835.88 1421.78 L835.88 1424.10 L833.56 1424.10 L833.56 1426.42 L833.56 1426.42 L833.56 1428.74 L831.24 1428.74 L831.24 1431.06 L826.60 1431.06 L826.60 1433.38 L821.96 1433.38 L821.96 1435.70 L808.04 1435.70 L808.04 1433.38 L803.40 1433.38 L803.40 1431.06 L798.76 1431.06 L798.76 1428.74 L796.44 1428.74 L796.44 1426.42 L796.44 1426.42 L796.44 1424.10 L794.12 1424.10 L794.12 1421.78 L794.12 1421.78 L794.12 1419.46 L791.80 1419.46 L791.80 1417.14 L791.80 1417.14 L791.80 1414.82 L791.80 1414.82 L791.80 1412.50 L791.80 1412.50 L791.80 1410.18 L791.80 1410.18 L791.80 1407.86 L791.80 1407.86 L791.80 1405.54 L794.12 1405.54 L794.12 1403.22 L794.12 1403.22 L794.12 1400.90 L796.44 1400.90 L796.44 1398.58 L796.44 1398.58 L796.44 1396.26 L798.76 1396.26 L798.76 1393.94 L803.40 1393.94 L803.40 1391.62 L808.04 1391.62 L808.04 1389.30Z" fill="#00AF66"/><path d="M1298.16 1380.50 L1298.16 1382.82 L1302.80 1382.82 L1302.80 1385.14 L1307.44 1385.14 L1307.44 1387.46 L1309.76 1387.46 L1309.76 1389.78 L1309.76 1389.78 L1309.76 1392.10 L1312.08 1392.10 L1312.08 1394.42 L1312.08 1394.42 L1312.08 1396.74 L1314.40 1396.74 L1314.40 1399.06 L1314.40 1399.06 L1314.40 1401.38 L1314.40 1401.38 L1314.40 1403.70 L1314.40 1403.70 L1314.40 1406.02 L1314.40 1406.02 L1314.40 1408.34 L1314.40 1408.34 L1314.40 1410.66 L1312.08 1410.66 L1312.08 1412.98 L1312.08 1412.98 L1312.08 1415.30 L1309.76 1415.30 L1309.76 1417.62 L1309.76 1417.62 L1309.76 1419.94 L1307.44 1419.94 L1307.44 1422.26 L1302.80 1422.26 L1302.80 1424.58 L1298.16 1424.58 L1298.16 1426.90 L1284.24 1426.90 L1284.24 1424.58 L1279.60 1424.58 L1279.60 1422.26 L1274.96 1422.26 L1274.96 1419.94 L1272.64 1419.94 L1272.64 1417.62 L1272.64 1417.62 L1272.64 1415.30 L1270.32 1415.30 L1270.32 1412.98 L1270.32 1412.98 L1270.32 1410.66 L1268.00 1410.66 L1268.00 1408.34 L1268.00 1408.34 L1268.00 1406.02 L1268.00 1406.02 L1268.00 1403.70 L1268.00 1403.70 L1268.00 1401.38 L1268.00 1401.38 L1268.00 1399.06 L1268.00 1399.06 L1268.00 1396.74 L1270.32 1396.74 L1270.32 1394.42 L1270.32 1394.42 L1270.32 1392.10 L1272.64 1392.10 L1272.64 1389.78 L1272.64 1389.78 L1272.64 1387.46 L1274.96 1387.46 L1274.96 1385.14 L1279.60 1385.14 L1279.60 1382.82 L1284.24 1382.82 L1284.24 1380.50Z" fill="#00AF66"/><path d="M1806.26 1396.60 L1806.26 1398.92 L1810.90 1398.92 L1810.90 1401.24 L1815.54 1401.24 L1815.54 1403.56 L1817.86 1403.56 L1817.86 1405.88 L1817.86 1405.88 L1817.86 1408.20 L1820.18 1408.20 L1820.18 1410.52 L1820.18 1410.52 L1820.18 1412.84 L1822.50 1412.84 L1822.50 1415.16 L1822.50 1415.16 L1822.50 1417.48 L1822.50 1417.48 L1822.50 1419.80 L1822.50 1419.80 L1822.50 1422.12 L1822.50 1422.12 L1822.50 1424.44 L1822.50 1424.44 L1822.50 1426.76 L1820.18 1426.76 L1820.18 1429.08 L1820.18 1429.08 L1820.18 1431.40 L1817.86 1431.40 L1817.86 1433.72 L1817.86 1433.72 L1817.86 1436.04 L1815.54 1436.04 L1815.54 1438.36 L1810.90 1438.36 L1810.90 1440.68 L1806.26 1440.68 L1806.26 1443.00 L1792.34 1443.00 L1792.34 1440.68 L1787.70 1440.68 L1787.70 1438.36 L1783.06 1438.36 L1783.06 1436.04 L1780.74 1436.04 L1780.74 1433.72 L1780.74 1433.72 L1780.74 1431.40 L1778.42 1431.40 L1778.42 1429.08 L1778.42 1429.08 L1778.42 1426.76 L1776.10 1426.76 L1776.10 1424.44 L1776.10 1424.44 L1776.10 1422.12 L1776.10 1422.12 L1776.10 1419.80 L1776.10 1419.80 L1776.10 1417.48 L1776.10 1417.48 L1776.10 1415.16 L1776.10 1415.16 L1776.10 1412.84 L1778.42 1412.84 L1778.42 1410.52 L1778.42 1410.52 L1778.42 1408.20 L1780.74 1408.20 L1780.74 1405.88 L1780.74 1405.88 L1780.74 1403.56 L1783.06 1403.56 L1783.06 1401.24 L1787.70 1401.24 L1787.70 1398.92 L1792.34 1398.92 L1792.34 1396.60Z" fill="#00AF66"/></g>
<g id="dashes" fill="#000"><rect x="383.9" y="755.90" width="53.0" height="11.3"/><rect x="485.5" y="755.90" width="53.0" height="11.3"/><rect x="586.8" y="755.90" width="53.0" height="11.3"/><rect x="688.4" y="755.90" width="53.0" height="11.3"/><rect x="790.0" y="755.90" width="53.0" height="11.3"/><rect x="889.0" y="755.90" width="53.0" height="11.3"/><rect x="990.4" y="755.90" width="53.0" height="11.3"/><rect x="1091.7" y="755.90" width="53.0" height="11.3"/><rect x="1193.0" y="755.90" width="53.0" height="11.3"/><rect x="1294.5" y="755.90" width="53.0" height="11.3"/><rect x="1393.8" y="755.90" width="53.0" height="11.3"/><rect x="1495.1" y="755.90" width="53.0" height="11.3"/><rect x="1596.7" y="755.90" width="53.0" height="11.3"/><rect x="1698.0" y="755.90" width="53.0" height="11.3"/><rect x="1799.2" y="755.90" width="16.4" height="11.3"/><rect x="356.3" y="1399.10" width="53.0" height="11.3"/><rect x="457.9" y="1399.10" width="53.0" height="11.3"/><rect x="559.1" y="1399.10" width="53.0" height="11.3"/><rect x="660.8" y="1399.10" width="53.0" height="11.3"/><rect x="762.1" y="1399.10" width="53.0" height="11.3"/><rect x="861.4" y="1399.10" width="53.0" height="11.3"/><rect x="962.9" y="1399.10" width="53.0" height="11.3"/><rect x="1063.9" y="1399.10" width="53.0" height="11.3"/><rect x="1165.4" y="1399.10" width="53.0" height="11.3"/><rect x="1267.1" y="1399.10" width="53.0" height="11.3"/><rect x="1365.9" y="1399.10" width="53.0" height="11.3"/><rect x="1467.3" y="1399.10" width="53.0" height="11.3"/><rect x="1569.2" y="1399.10" width="53.0" height="11.3"/><rect x="1670.5" y="1399.10" width="53.0" height="11.3"/><rect x="1771.9" y="1399.10" width="15.8" height="11.3"/></g>
<g id="arrows"><rect x="1616" y="516.1" width="180.8" height="2.1" fill="#404040"/><rect x="1616" y="518.2" width="180.8" height="4.8" fill="#000"/><rect x="1616" y="523.0" width="180.8" height="2.0" fill="#808080"/><rect x="1790.2" y="525.0" width="2.0" height="206.0" fill="#a8a8a8"/><rect x="1796.8" y="516.1" width="2.0" height="214.9" fill="#808080"/><rect x="1792.2" y="518.2" width="4.6" height="212.8" fill="#000"/><path d="M1592.1 520.70 L1616.9 507.10 L1616.9 534.30 Z" fill="#000"/><rect x="1616" y="1173.1" width="180.8" height="2.0" fill="#888888"/><rect x="1616" y="1175.1" width="180.8" height="4.9" fill="#000"/><rect x="1616" y="1180.0" width="180.8" height="1.9" fill="#383838"/><rect x="1790.2" y="1181.9" width="2.0" height="205.1" fill="#a8a8a8"/><rect x="1796.8" y="1173.1" width="2.0" height="213.9" fill="#808080"/><rect x="1792.2" y="1175.1" width="4.6" height="211.9" fill="#000"/><path d="M1592.1 1177.85 L1616.9 1164.25 L1616.9 1191.45 Z" fill="#000"/></g>
<g id="c5" transform="matrix(1.00868 0 0 1.03157 -5.031 -18.388)"><text font-size="102" x="750.0" y="562.1"><tspan class="i">iso</tspan>-C<tspan font-size="68.5" dy="19.6">5</tspan><tspan dy="-19.6">H</tspan><tspan font-size="68.5" dy="19.6"><tspan style="font-family:NanumGothic,sans-serif;font-size:0.93em;stroke:#000;stroke-width:1.6px">1</tspan>0</tspan><tspan dy="-19.6">/</tspan><tspan class="i">n</tspan>-C<tspan font-size="68.5" dy="19.6">5</tspan><tspan dy="-19.6">H</tspan><tspan font-size="68.5" dy="19.6"><tspan style="font-family:NanumGothic,sans-serif;font-size:0.93em;stroke:#000;stroke-width:1.6px">1</tspan>0</tspan></text></g>
<g id="c4" transform="matrix(1.00927 0 0 1.04725 -6.393 -55.711)"><text font-size="102" x="817.0" y="1192.9"><tspan class="i">iso</tspan>-C<tspan font-size="68.5" dy="17.6">4</tspan><tspan dy="-17.6">H</tspan><tspan font-size="68.5" dy="17.6">8</tspan><tspan dy="-17.6">/</tspan><tspan class="i">n</tspan>-C<tspan font-size="68.5" dy="17.6">4</tspan><tspan dy="-17.6">H</tspan><tspan font-size="68.5" dy="17.6">8</tspan></text></g>
<g id="legmarks"><path d="M400.03 1795.50 L400.03 1797.81 L404.65 1797.81 L404.65 1800.12 L409.27 1800.12 L409.27 1802.43 L411.58 1802.43 L411.58 1804.74 L411.58 1804.74 L411.58 1807.05 L413.89 1807.05 L413.89 1809.36 L413.89 1809.36 L413.89 1811.67 L416.20 1811.67 L416.20 1813.98 L416.20 1813.98 L416.20 1816.29 L416.20 1816.29 L416.20 1818.60 L416.20 1818.60 L416.20 1820.91 L416.20 1820.91 L416.20 1823.22 L416.20 1823.22 L416.20 1825.53 L413.89 1825.53 L413.89 1827.84 L413.89 1827.84 L413.89 1830.15 L411.58 1830.15 L411.58 1832.46 L411.58 1832.46 L411.58 1834.77 L409.27 1834.77 L409.27 1837.08 L404.65 1837.08 L404.65 1839.39 L400.03 1839.39 L400.03 1841.70 L386.17 1841.70 L386.17 1839.39 L381.55 1839.39 L381.55 1837.08 L376.93 1837.08 L376.93 1834.77 L374.62 1834.77 L374.62 1832.46 L374.62 1832.46 L374.62 1830.15 L372.31 1830.15 L372.31 1827.84 L372.31 1827.84 L372.31 1825.53 L370.00 1825.53 L370.00 1823.22 L370.00 1823.22 L370.00 1820.91 L370.00 1820.91 L370.00 1818.60 L370.00 1818.60 L370.00 1816.29 L370.00 1816.29 L370.00 1813.98 L370.00 1813.98 L370.00 1811.67 L372.31 1811.67 L372.31 1809.36 L372.31 1809.36 L372.31 1807.05 L374.62 1807.05 L374.62 1804.74 L374.62 1804.74 L374.62 1802.43 L376.93 1802.43 L376.93 1800.12 L381.55 1800.12 L381.55 1797.81 L386.17 1797.81 L386.17 1795.50Z" fill="#FF3B3B"/><path d="M399.98 1891.65 L399.98 1893.86 L404.62 1893.86 L404.62 1896.06 L409.27 1896.06 L409.27 1898.27 L411.60 1898.27 L411.60 1900.47 L411.60 1900.47 L411.60 1902.68 L413.93 1902.68 L413.93 1904.88 L413.93 1904.88 L413.93 1907.09 L416.25 1907.09 L416.25 1909.29 L416.25 1909.29 L416.25 1911.50 L416.25 1911.50 L416.25 1913.70 L416.25 1913.70 L416.25 1915.91 L416.25 1915.91 L416.25 1918.11 L416.25 1918.11 L416.25 1920.32 L413.93 1920.32 L413.93 1922.52 L413.93 1922.52 L413.93 1924.73 L411.60 1924.73 L411.60 1926.93 L411.60 1926.93 L411.60 1929.13 L409.27 1929.13 L409.27 1931.34 L404.62 1931.34 L404.62 1933.55 L399.98 1933.55 L399.98 1935.75 L386.02 1935.75 L386.02 1933.55 L381.38 1933.55 L381.38 1931.34 L376.73 1931.34 L376.73 1929.13 L374.40 1929.13 L374.40 1926.93 L374.40 1926.93 L374.40 1924.73 L372.07 1924.73 L372.07 1922.52 L372.07 1922.52 L372.07 1920.32 L369.75 1920.32 L369.75 1918.11 L369.75 1918.11 L369.75 1915.91 L369.75 1915.91 L369.75 1913.70 L369.75 1913.70 L369.75 1911.50 L369.75 1911.50 L369.75 1909.29 L369.75 1909.29 L369.75 1907.09 L372.07 1907.09 L372.07 1904.88 L372.07 1904.88 L372.07 1902.68 L374.40 1902.68 L374.40 1900.47 L374.40 1900.47 L374.40 1898.27 L376.73 1898.27 L376.73 1896.06 L381.38 1896.06 L381.38 1893.86 L386.02 1893.86 L386.02 1891.65Z" fill="#00AF66"/><path d="M1217.38 1795.95 L1217.38 1798.47 L1222.24 1798.47 L1222.24 1800.98 L1224.67 1800.98 L1224.67 1803.50 L1227.09 1803.50 L1227.09 1806.02 L1229.52 1806.02 L1229.52 1808.53 L1229.52 1808.53 L1229.52 1811.05 L1231.95 1811.05 L1231.95 1813.57 L1231.95 1813.57 L1231.95 1816.08 L1231.95 1816.08 L1231.95 1818.60 L1231.95 1818.60 L1231.95 1821.12 L1231.95 1821.12 L1231.95 1823.63 L1231.95 1823.63 L1231.95 1826.15 L1229.52 1826.15 L1229.52 1828.67 L1229.52 1828.67 L1229.52 1831.18 L1227.09 1831.18 L1227.09 1833.70 L1224.67 1833.70 L1224.67 1836.22 L1222.24 1836.22 L1222.24 1838.73 L1217.38 1838.73 L1217.38 1841.25 L1202.82 1841.25 L1202.82 1838.73 L1197.96 1838.73 L1197.96 1836.22 L1195.53 1836.22 L1195.53 1833.70 L1193.11 1833.70 L1193.11 1831.18 L1190.68 1831.18 L1190.68 1828.67 L1190.68 1828.67 L1190.68 1826.15 L1188.25 1826.15 L1188.25 1823.63 L1188.25 1823.63 L1188.25 1821.12 L1188.25 1821.12 L1188.25 1818.60 L1188.25 1818.60 L1188.25 1816.08 L1188.25 1816.08 L1188.25 1813.57 L1188.25 1813.57 L1188.25 1811.05 L1190.68 1811.05 L1190.68 1808.53 L1190.68 1808.53 L1190.68 1806.02 L1193.11 1806.02 L1193.11 1803.50 L1195.53 1803.50 L1195.53 1800.98 L1197.96 1800.98 L1197.96 1798.47 L1202.82 1798.47 L1202.82 1795.95Z" fill="#0070E0"/><path d="M1224.48 1891.80 L1224.48 1894.24 L1229.34 1894.24 L1229.34 1896.69 L1231.77 1896.69 L1231.77 1899.13 L1234.19 1899.13 L1234.19 1901.58 L1236.62 1901.58 L1236.62 1904.02 L1236.62 1904.02 L1236.62 1906.47 L1239.05 1906.47 L1239.05 1908.91 L1239.05 1908.91 L1239.05 1911.36 L1239.05 1911.36 L1239.05 1913.80 L1239.05 1913.80 L1239.05 1916.24 L1239.05 1916.24 L1239.05 1918.69 L1239.05 1918.69 L1239.05 1921.13 L1236.62 1921.13 L1236.62 1923.58 L1236.62 1923.58 L1236.62 1926.02 L1234.19 1926.02 L1234.19 1928.47 L1231.77 1928.47 L1231.77 1930.91 L1229.34 1930.91 L1229.34 1933.36 L1224.48 1933.36 L1224.48 1935.80 L1209.92 1935.80 L1209.92 1933.36 L1205.06 1933.36 L1205.06 1930.91 L1202.63 1930.91 L1202.63 1928.47 L1200.21 1928.47 L1200.21 1926.02 L1197.78 1926.02 L1197.78 1923.58 L1197.78 1923.58 L1197.78 1921.13 L1195.35 1921.13 L1195.35 1918.69 L1195.35 1918.69 L1195.35 1916.24 L1195.35 1916.24 L1195.35 1913.80 L1195.35 1913.80 L1195.35 1911.36 L1195.35 1911.36 L1195.35 1908.91 L1195.35 1908.91 L1195.35 1906.47 L1197.78 1906.47 L1197.78 1904.02 L1197.78 1904.02 L1197.78 1901.58 L1200.21 1901.58 L1200.21 1899.13 L1202.63 1899.13 L1202.63 1896.69 L1205.06 1896.69 L1205.06 1894.24 L1209.92 1894.24 L1209.92 1891.80Z" fill="#505050"/></g>
<g id="leg1" transform="matrix(0.99630 0 0 1.05136 2.183 -94.965)"><text font-size="67" x="483.0" y="1841.5">MFI-MEL/Al<tspan font-size="43" dy="17.7">2</tspan><tspan dy="-17.7">O</tspan><tspan font-size="43" dy="17.7">3</tspan></text></g>
<g id="leg2" transform="matrix(0.99135 0 0 1.04193 4.597 -80.948)"><text font-size="67" x="483.0" y="1936.0">MFI-MCM-4<tspan style="font-family:NanumGothic,sans-serif;font-size:0.93em;stroke:#000;stroke-width:1.6px">1</tspan>/Al<tspan font-size="43" dy="17.7">2</tspan><tspan dy="-17.7">O</tspan><tspan font-size="43" dy="17.7">3</tspan></text></g>
<g id="leg3" transform="matrix(0.99704 0 0 1.04789 4.377 -87.925)"><text font-size="67" x="1299.0" y="1841.5">MFI-MTW/Al<tspan font-size="43" dy="17.7">2</tspan><tspan dy="-17.7">O</tspan><tspan font-size="43" dy="17.7">3</tspan></text></g>
<g id="leg4" transform="matrix(1.00459 0 0 1.03906 -5.533 -76.015)"><text font-size="67" x="1306.0" y="1936.0">MFI/Al<tspan font-size="43" dy="17.7">2</tspan><tspan dy="-17.7">O</tspan><tspan font-size="43" dy="17.7">3</tspan></text></g>
</svg></body></html>
